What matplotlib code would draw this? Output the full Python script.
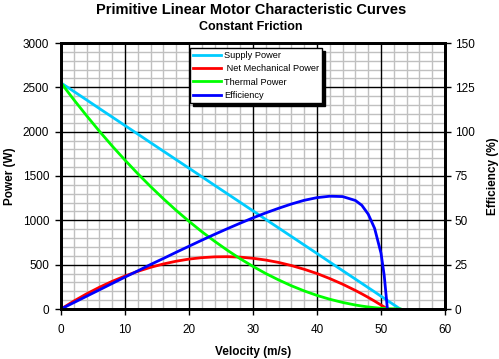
import matplotlib
matplotlib.use("Agg")
import matplotlib.pyplot as plt
from matplotlib.ticker import MultipleLocator

velocity = [0, 2, 4, 6, 8, 10, 12, 14, 16, 18, 20, 22, 24, 26, 28, 30, 32, 34, 36, 38,
            40, 42, 44, 46, 47, 48, 49, 50, 50.5, 51]
supply_power = [2550, 2454, 2358, 2261, 2165, 2069, 1973, 1876, 1780, 1684, 1588, 1492,
                1395, 1299, 1203, 1107, 1010, 914, 818, 722, 626, 529, 433, 337, 289,
                241, 193, 144, 120, 96]
net_mech_power = [0, 89, 171, 245, 312, 372, 425, 470, 508, 539, 563, 579, 588, 590, 585,
                  572, 552, 525, 490, 448, 400, 343, 280, 209, 171, 131, 89, 45, 23, 0]
thermal_power = [2550, 2361, 2180, 2005, 1838, 1679, 1526, 1381, 1243, 1112, 989, 872,
                 764, 662, 567, 480, 400, 328, 262, 204, 153, 110, 74, 45, 33, 23, 15, 8,
                 6, 4]
efficiency = [0, 3.6, 7.2, 10.8, 14.4, 18.0, 21.5, 25.1, 28.5, 32.0, 35.4, 38.8, 42.1,
              45.3, 48.4, 51.4, 54.2, 56.8, 59.2, 61.3, 62.8, 63.6, 63.4, 61.2, 58.5,
              53.5, 45.5, 31.5, 19.0, 0]
# supply and thermal reach zero at v = 53
supply_v_end = 53
thermal_v_end = 53

x_major = [0, 10, 20, 30, 40, 50, 60]
y_major = [0, 500, 1000, 1500, 2000, 2500, 3000]

plt.rcParams['font.family'] = ['Liberation Sans', 'DejaVu Sans']

fig = plt.figure(figsize=(4.99, 3.59), dpi=100)
ax = fig.add_axes([61/499, 50/359, 384/499, 266/359])
ax2 = ax.twinx()

ax.set_xlim(0, 60)
ax.set_ylim(0, 3000)
ax2.set_ylim(0, 150)

ax.xaxis.set_major_locator(MultipleLocator(10))
ax.xaxis.set_minor_locator(MultipleLocator(2))
ax.yaxis.set_major_locator(MultipleLocator(500))
ax.yaxis.set_minor_locator(MultipleLocator(100))
ax2.yaxis.set_major_locator(MultipleLocator(25))

ax.grid(which='minor', color='#c0c0c0', linewidth=1)
ax.set_axisbelow(True)
for xv in x_major:
    ax.axvline(xv, color='black', linewidth=1, zorder=1)
for yv in y_major:
    ax.axhline(yv, color='black', linewidth=1, zorder=1)

lw = 2
l1, = ax.plot(velocity + [supply_v_end], supply_power + [0], color='#00ccff', lw=lw,
              label='Supply Power', zorder=3)
l2, = ax.plot(velocity, net_mech_power, color='#ff0000', lw=lw,
              label=' Net Mechanical Power', zorder=3)
l3, = ax.plot(velocity + [thermal_v_end], thermal_power + [0], color='#00ff00', lw=lw,
              label='Thermal Power', zorder=3)
l4, = ax2.plot(velocity, efficiency, color='#0000ff', lw=lw, label='Efficiency', zorder=3)

for a in (ax, ax2):
    for s in a.spines.values():
        s.set_linewidth(2)
        s.set_color('black')
        s.set_zorder(5)
    a.tick_params(which='major', direction='out', length=4, width=1, labelsize=8.5)
    a.tick_params(which='minor', length=0)
ax.tick_params(axis='y', pad=4.5)
ax.tick_params(axis='x', pad=7)
ax2.tick_params(axis='y', pad=3)

ax.set_xlabel('Velocity (m/s)', fontsize=8.5, fontweight='bold', labelpad=7)
ax.set_ylabel('Power (W)', fontsize=8.5, fontweight='bold', labelpad=5)
ax2.set_ylabel('Efficiency (%)', fontsize=8.5, fontweight='bold', labelpad=9)

fig.text(251/499, 1 - 10/359, 'Primitive Linear Motor Characteristic Curves',
         ha='center', va='center', fontsize=10.5, fontweight='bold')
fig.text(251/499, 1 - 26.5/359, 'Constant Friction', ha='center', va='center',
         fontsize=9, fontweight='bold')

leg = ax2.legend(handles=[l1, l2, l3, l4], loc='upper left',
                 bbox_to_anchor=((190-61)/384, (309-48)/266), fontsize=6.7,
                 frameon=True, fancybox=False,
                 shadow={'color': 'black', 'alpha': 1},
                 borderpad=0.35, labelspacing=0.45, handlelength=3.0, handletextpad=0.3,
                 borderaxespad=0)
leg.get_frame().set_edgecolor('black')
leg.get_frame().set_linewidth(1)
leg.set_zorder(10)

fig.savefig('out.png', dpi=100)
